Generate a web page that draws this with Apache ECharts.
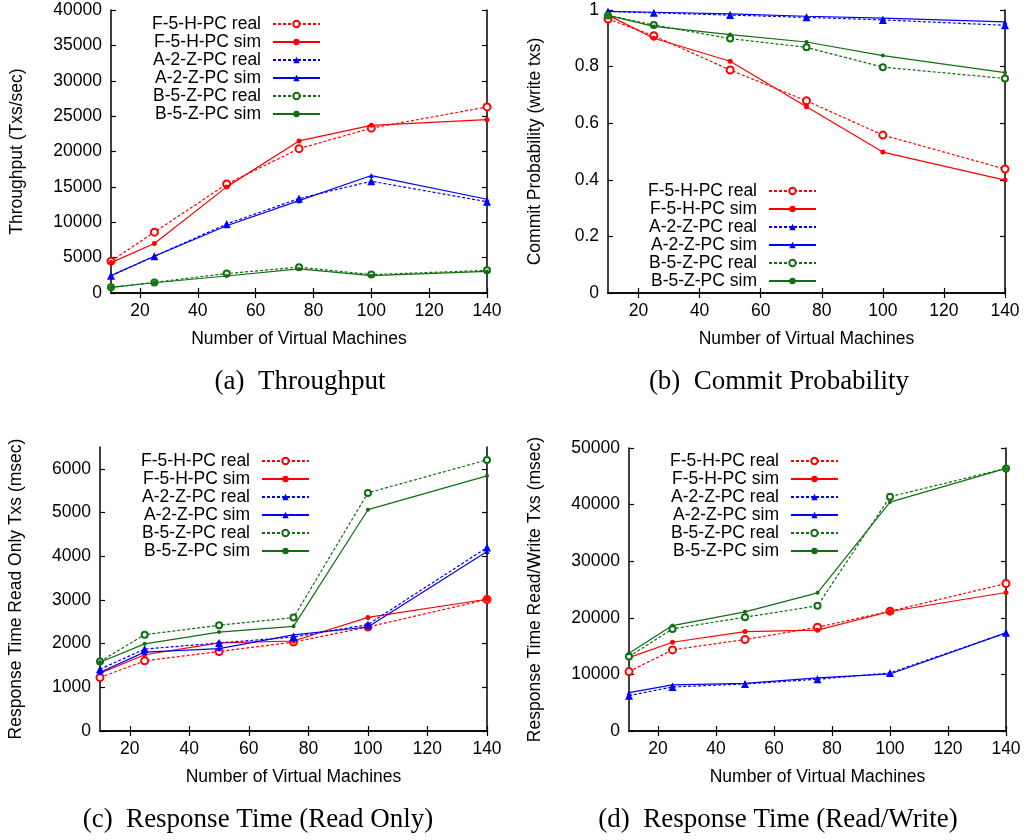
<!DOCTYPE html>
<html><head><meta charset="utf-8">
<script src="https://cdn.jsdelivr.net/npm/echarts@6/dist/echarts.min.js"></script>
<style>html,body{margin:0;padding:0;background:#fff}#c{width:1027px;height:840px}</style>
</head><body><div id="c"></div>
<script>
const vms = [10, 25, 50, 75, 100, 140];
const seriesNames = ['F-5-H-PC real', 'F-5-H-PC sim', 'A-2-Z-PC real', 'A-2-Z-PC sim', 'B-5-Z-PC real', 'B-5-Z-PC sim'];
const xTicks = [20, 40, 60, 80, 100, 120, 140];

// (a) Throughput
const thrFReal = [4500, 8600, 15400, 20400, 23300, 26300];
const thrFSim  = [4300, 7000, 15000, 21500, 23700, 24500];
const thrAReal = [2450, 5200, 9750, 13350, 15800, 12900];
const thrASim  = [2450, 5200, 9500, 13050, 16600, 13250];
const thrBReal = [800, 1500, 2750, 3650, 2600, 3200];
const thrBSim  = [800, 1450, 2400, 3400, 2450, 3050];
const thrTicks = [0, 5000, 10000, 15000, 20000, 25000, 30000, 35000, 40000];

// (b) Commit Probability
const cpFReal = [0.968, 0.909, 0.788, 0.679, 0.558, 0.438];
const cpFSim  = [0.982, 0.900, 0.819, 0.658, 0.498, 0.399];
const cpAReal = [0.995, 0.990, 0.982, 0.974, 0.965, 0.946];
const cpASim  = [0.995, 0.992, 0.986, 0.978, 0.971, 0.958];
const cpBReal = [0.981, 0.947, 0.899, 0.868, 0.798, 0.758];
const cpBSim  = [0.981, 0.942, 0.913, 0.887, 0.839, 0.779];
const cpTicks = [0, 0.2, 0.4, 0.6, 0.8, 1];

// (c) Response Time Read Only
const roFReal = [1225, 1605, 1820, 2035, 2380, 3010];
const roFSim  = [1325, 1745, 2015, 2060, 2600, 3015];
const roAReal = [1415, 1875, 2015, 2150, 2435, 4200];
const roASim  = [1345, 1805, 1885, 2200, 2380, 4110];
const roBReal = [1590, 2205, 2420, 2595, 5450, 6205];
const roBSim  = [1575, 1995, 2265, 2395, 5065, 5840];
const roTicks = [0, 1000, 2000, 3000, 4000, 5000, 6000];

// (d) Response Time Read/Write
const rwFReal = [10500, 14330, 16160, 18340, 21170, 26060];
const rwFSim  = [12970, 15680, 17570, 17810, 21110, 24470];
const rwAReal = [6250, 7780, 8310, 9140, 10260, 17340];
const rwASim  = [6780, 8140, 8430, 9380, 10080, 17340];
const rwBReal = [13150, 18040, 20110, 22110, 41390, 46400];
const rwBSim  = [13740, 18630, 21050, 24410, 40450, 46400];
const rwTicks = [0, 10000, 20000, 30000, 40000, 50000];

const GREEN = '#0e700e';
const styles = [
  { color: '#ff0000', type: [3, 2], symbol: 'emptyCircle', size: 7, bw: 1.2 },
  { color: '#ff0000', type: 'solid', symbol: 'circle', size: 5, bw: 0 },
  { color: '#0000ff', type: [3, 2], symbol: 'triangle', size: 8, bw: 0 },
  { color: '#0000ff', type: 'solid', symbol: 'triangle', size: 5, bw: 0 },
  { color: GREEN, type: [3, 2], symbol: 'emptyCircle', size: 6, bw: 2 },
  { color: GREEN, type: 'solid', symbol: 'circle', size: 4, bw: 0 }
];

const panels = [
  { grid: { left: 111, top: 10, width: 376, height: 283 }, yMax: 40000, yTicks: thrTicks,
    yName: 'Throughput (Txs/sec)', yGap: 85, xGap: 37,
    data: [thrFReal, thrFSim, thrAReal, thrASim, thrBReal, thrBSim],
    legend: { right: 706, top: 15 }, caption: { x: 300, y: 382, text: '(a)  Throughput' } },
  { grid: { left: 608, top: 10, width: 397, height: 283 }, yMax: 1, yTicks: cpTicks,
    yName: 'Commit Probability (write txs)', yGap: 64, xGap: 37,
    data: [cpFReal, cpFSim, cpAReal, cpASim, cpBReal, cpBSim],
    legend: { right: 210, top: 182 }, caption: { x: 779, y: 382, text: '(b)  Commit Probability' } },
  { grid: { left: 100, top: 447, width: 387, height: 284 }, yMax: 6500, yTicks: roTicks,
    yName: 'Response Time Read Only Txs (msec)', yGap: 75, xGap: 37,
    data: [roFReal, roFSim, roAReal, roASim, roBReal, roBSim],
    legend: { right: 717, top: 452 }, caption: { x: 258, y: 820, text: '(c)  Response Time (Read Only)' } },
  { grid: { left: 629, top: 448, width: 377, height: 283 }, yMax: 50000, yTicks: rwTicks,
    yName: 'Response Time Read/Write Txs (msec)', yGap: 85, xGap: 37,
    data: [rwFReal, rwFSim, rwAReal, rwASim, rwBReal, rwBSim],
    legend: { right: 188, top: 452 }, caption: { x: 778, y: 820, text: '(d)  Response Time (Read/Write)' } }
];

const FONT = 'Liberation Sans';
const LBL = { color: '#000', fontSize: 17.5, fontFamily: FONT };
const AXLINE = { show: true, lineStyle: { color: '#000', width: 1.5 } };
const plain = v => String(v);

const grids = [], xAxes = [], yAxes = [], series = [], legends = [], graphics = [];
panels.forEach((p, pi) => {
  grids.push(Object.assign({ containLabel: false }, p.grid));
  xAxes.push({ type: 'value', gridIndex: pi, position: 'bottom', min: 10, max: 140,
    name: 'Number of Virtual Machines', nameLocation: 'middle', nameGap: p.xGap, nameTextStyle: LBL,
    axisLine: AXLINE, splitLine: { show: false },
    axisTick: { inside: true, length: 5, customValues: xTicks, lineStyle: { color: '#000', width: 1.2 } },
    axisLabel: Object.assign({ customValues: xTicks, margin: 9, formatter: plain }, LBL) });
  xAxes.push({ type: 'value', gridIndex: pi, position: 'top', min: 10, max: 140,
    axisLine: AXLINE, splitLine: { show: false },
    axisTick: { inside: true, length: 5, customValues: xTicks, lineStyle: { color: '#000', width: 1.2 } },
    axisLabel: { show: false } });
  yAxes.push({ type: 'value', gridIndex: pi, position: 'left', min: 0, max: p.yMax,
    name: p.yName, nameLocation: 'middle', nameGap: p.yGap, nameRotate: 90, nameTextStyle: LBL,
    axisLine: AXLINE, splitLine: { show: false },
    axisTick: { inside: true, length: 5, customValues: p.yTicks, lineStyle: { color: '#000', width: 1.2 } },
    axisLabel: Object.assign({ customValues: p.yTicks, margin: 9, formatter: plain }, LBL) });
  yAxes.push({ type: 'value', gridIndex: pi, position: 'right', min: 0, max: p.yMax,
    axisLine: AXLINE, splitLine: { show: false },
    axisTick: { inside: true, length: 5, customValues: p.yTicks, lineStyle: { color: '#000', width: 1.2 } },
    axisLabel: { show: false } });
  p.data.forEach((arr, si) => {
    const st = styles[si];
    series.push({
      type: 'line', name: seriesNames[si], xAxisIndex: pi * 2, yAxisIndex: pi * 2,
      data: vms.map((x, i) => [x, arr[i]]),
      symbol: st.symbol, symbolSize: st.size, showSymbol: true, animation: false,
      lineStyle: { color: st.color, width: 1.2, type: st.type },
      itemStyle: { color: st.color, borderColor: st.color, borderWidth: st.bw },
      emphasis: { disabled: true }, z: 2 + si
    });
  });
  legends.push({
    show: true, orient: 'vertical', align: 'right', right: p.legend.right, top: p.legend.top,
    padding: 0, itemGap: 0, itemWidth: 47, itemHeight: 8, selectedMode: false,
    data: seriesNames,
    textStyle: { color: '#000', fontSize: 17.5, fontFamily: FONT, lineHeight: 18, padding: [0, 7, 0, 0] }
  });
  graphics.push({ type: 'text', x: p.caption.x, y: p.caption.y,
    style: { text: p.caption.text, font: '27px "Liberation Serif"', fill: '#000', align: 'center', verticalAlign: 'middle' } });
});

const chart = echarts.init(document.getElementById('c'), null, { renderer: 'canvas' });
chart.setOption({
  backgroundColor: '#fff', animation: false,
  grid: grids, xAxis: xAxes, yAxis: yAxes, series: series, legend: legends, graphic: graphics
});
</script></body></html>
